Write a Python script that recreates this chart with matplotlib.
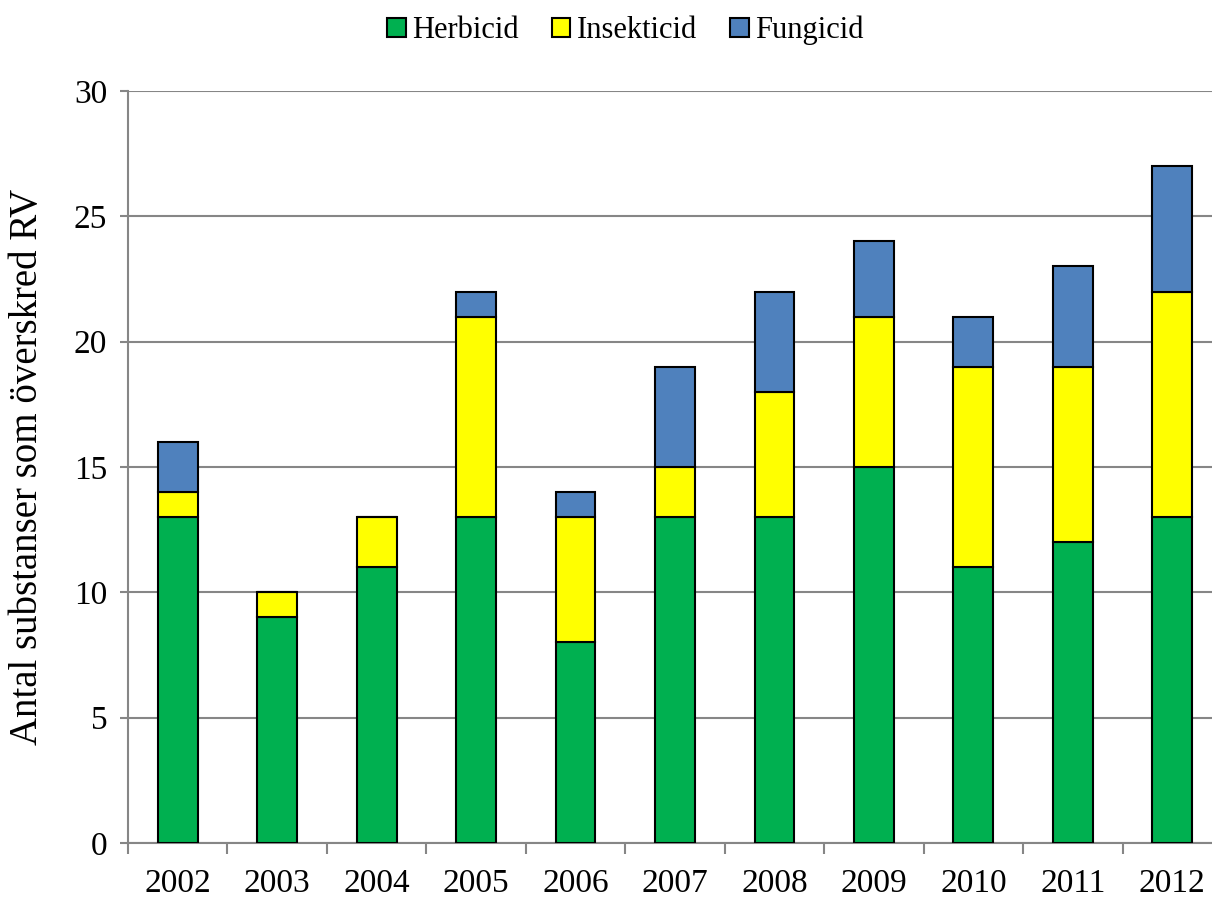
import matplotlib
matplotlib.use("Agg")
import matplotlib.pyplot as plt
import numpy as np

years = ["2002", "2003", "2004", "2005", "2006", "2007", "2008", "2009", "2010", "2011", "2012"]
herbicid = [13, 9, 11, 13, 8, 13, 13, 15, 11, 12, 13]
insekticid = [1, 1, 2, 8, 5, 2, 5, 6, 8, 7, 9]
fungicid = [2, 0, 0, 1, 1, 4, 4, 3, 2, 4, 5]
series_names = ["Herbicid", "Insekticid", "Fungicid"]
colors = ["#00B050", "#FFFF00", "#4F81BD"]
yticks = [0, 5, 10, 15, 20, 25, 30]

plt.rcParams['font.family'] = ['Liberation Serif', 'DejaVu Serif']

fig = plt.figure(figsize=(12.12, 8.98), dpi=100)
W, H = 1212, 898
ax = fig.add_axes([128 / W, (H - 843) / H, 1094 / W, (843 - 91) / H])

x = np.arange(len(years))
bottom = np.zeros(len(years))
for name, vals, c in zip(series_names, [herbicid, insekticid, fungicid], colors):
    v = np.array(vals, dtype=float)
    ax.bar(x, v, bottom=bottom, width=0.4, color=c, edgecolor="black",
           linewidth=1.5, label=name, zorder=3)
    bottom += v

ax.set_xlim(-0.5, len(years) - 0.5)
ax.set_ylim(0, 30)
ax.set_yticks(yticks)
ax.set_yticklabels([str(t) for t in yticks], fontsize=24)
ax.set_xticks(x)
ax.set_xticklabels(years, fontsize=24)
ax.tick_params(axis='x', which='major', length=0, pad=18)
ax.set_xticks(np.arange(-0.5, len(years) - 0.5 + 0.01, 1), minor=True)
ax.tick_params(axis='x', which='minor', length=8, width=1.5, color="#868686", direction='out')
ax.tick_params(axis='y', length=6, width=1.5, color="#868686", direction='out', pad=9)

ax.yaxis.grid(True, color="#868686", linewidth=1.5, zorder=0)
ax.set_axisbelow(True)
for s in ["top", "right"]:
    ax.spines[s].set_visible(False)
for s in ["left", "bottom"]:
    ax.spines[s].set_color("#868686")
    ax.spines[s].set_linewidth(1.5)

fig.text(27.5 / W, (H - 467) / H, "Antal substanser som överskred RV", fontsize=28,
         rotation=90, ha="center", va="center")

leg = fig.legend(loc="upper center", bbox_to_anchor=(0.516, 1.013), ncol=3, frameon=False,
                 fontsize=22, handlelength=0.6, handleheight=0.6, handletextpad=0.2,
                 columnspacing=1.1)
for h in leg.legend_handles:
    h.set_linewidth(1.5)

fig.savefig("out.png", dpi=100)
